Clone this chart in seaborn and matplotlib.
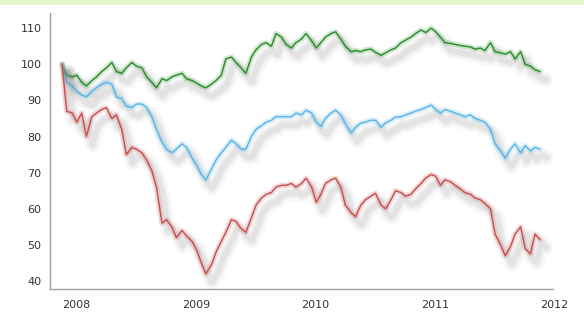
import matplotlib
matplotlib.use("Agg")
import matplotlib.pyplot as plt
import matplotlib.dates as mdates
import matplotlib.patheffects as pe
from matplotlib.patches import Rectangle
import seaborn as sns
import pandas as pd

# semi-monthly dates, Jan 2008 .. Dec 2011
dates = list(pd.date_range("2008-01-01", "2011-12-16", freq="SMS")) + [pd.Timestamp("2011-12-30")]

green = [100, 97, 96.5, 97, 95, 94, 95.5, 96.5, 98, 99, 100.5, 98, 97.5, 99, 100.5, 99.5,
         99, 96.5, 95, 93.5, 96, 95.5, 96.5, 97, 97.5, 96, 95.5, 94.8, 94, 93.5, 94.5, 95.5,
         97, 101.5, 102, 100.5, 99, 97.5, 102, 104, 105.5, 106, 105, 108.5, 107.5, 105.5,
         104.5, 106, 107, 108.5, 106.5, 104.5, 106, 107.5, 108.5, 109, 107, 105, 103.5, 103.8,
         103.5, 104, 104.2, 103.3, 102.5, 103.2, 104, 104.5, 106, 106.7, 107.5, 108.5, 109.5,
         108.8, 110, 109, 107.5, 106, 105.8, 105.5, 105.2, 105, 104.8, 104.2, 104.5, 103.8,
         106, 103.5, 103.2, 102.8, 103.5, 101.5, 103.5, 100, 99.5, 98.5, 98]

blue = [100, 95, 94, 92.5, 91.5, 91, 92.5, 93.5, 94.5, 95, 94.5, 91, 90.5, 88.5, 88, 89,
        89, 88, 85.5, 82, 78.5, 76.5, 75.5, 76.5, 78, 77, 74, 72, 69.5, 68, 71, 73.5,
        75.5, 77, 79, 78, 76.5, 76.5, 80, 82, 83, 84, 84.5, 85.5, 85.5, 85.5, 85.5, 86.5,
        86, 87.3, 86.5, 84, 82.8, 85, 86.5, 87.3, 86, 83.5, 81, 82.5, 83.7, 84, 84.5, 84.5,
        82.6, 83.8, 84.5, 85.4, 85.5, 86, 86.5, 87, 87.5, 88, 88.7, 87.5, 86.5, 87.5, 87,
        86.5, 86, 85.5, 86, 85, 84.5, 84, 82, 78, 76, 74, 76.5, 78, 75.5, 77.5, 76, 77, 76.5]

red = [100, 87, 86.5, 84, 86.5, 80, 85.5, 86.5, 87.5, 88, 85, 86, 82, 75, 77, 76.5,
       75.5, 73.5, 70.5, 66, 56, 57, 55, 52, 54, 52.5, 51, 48.5, 45, 42, 44.5, 48,
       51, 53.5, 57, 56.5, 54.5, 53.5, 57.5, 61, 63, 64, 64.5, 66, 66.5, 66.5, 67, 66,
       67, 68.5, 66, 61.8, 64, 67, 68, 68.5, 66, 61, 59, 57.8, 61, 62.5, 63.5, 64.3,
       61, 60, 62.5, 65, 64.5, 63.5, 64, 65.5, 67, 68.5, 69.5, 69, 66.5, 68, 67.5,
       66.5, 65.5, 64.5, 64, 63, 62.5, 61.5, 60, 53, 50, 47, 49.5, 53, 55, 49, 47.5, 53, 51.5]

series = {"green": green, "blue": blue, "red": red}
colors = {"green": "#2f8f2f", "blue": "#5cb6e8", "red": "#c65453"}

df = pd.DataFrame({"date": dates, **series}).melt(id_vars="date", var_name="name", value_name="value")

sns.set_style("white")
fig = plt.figure(figsize=(5.84, 3.14), dpi=100)
ax = fig.add_axes([0.0856, 0.0796, 0.8614, 0.879])

sns.lineplot(data=df, x="date", y="value", hue="name", palette=colors,
             linewidth=1.1, legend=False, ax=ax)

# soft drop shadow + light glow under each line
for line in ax.lines:
    c = line.get_color()
    line.set_path_effects([
        pe.SimpleLineShadow(offset=(4.5, -6), shadow_color="#777777", alpha=0.05, linewidth=11),
        pe.SimpleLineShadow(offset=(4.5, -6), shadow_color="#777777", alpha=0.07, linewidth=7),
        pe.SimpleLineShadow(offset=(4.5, -6), shadow_color="#777777", alpha=0.09, linewidth=4),
        pe.Stroke(linewidth=4, foreground=c, alpha=0.2),
        pe.Normal(),
    ])

ax.set_xlim(pd.Timestamp("2007-11-25"), pd.Timestamp("2012-02-08"))
ax.set_ylim(37.8, 114.2)
ax.set_yticks(range(40, 111, 10))
ax.xaxis.set_major_locator(mdates.YearLocator())
ax.xaxis.set_major_formatter(mdates.DateFormatter("%Y"))
for lbl in ax.get_xticklabels():
    lbl.set_horizontalalignment("left")
ax.set_xlabel("")
ax.set_ylabel("")

sns.despine(ax=ax)
for s in ["left", "bottom"]:
    ax.spines[s].set_color("#a0a0a0")
    ax.spines[s].set_linewidth(1.0)
ax.tick_params(axis="both", direction="out", length=3, width=0.8, color="#a0a0a0",
               labelsize=8, labelcolor="#333333", pad=3)
ax.tick_params(axis="x", pad=5)

# thin light-green band along the top edge
fig.patches.append(Rectangle((0, 1 - 5 / 314), 1, 5 / 314, transform=fig.transFigure,
                             facecolor="#e3f5cb", edgecolor="none", zorder=0))

fig.savefig("out.png", dpi=100)
